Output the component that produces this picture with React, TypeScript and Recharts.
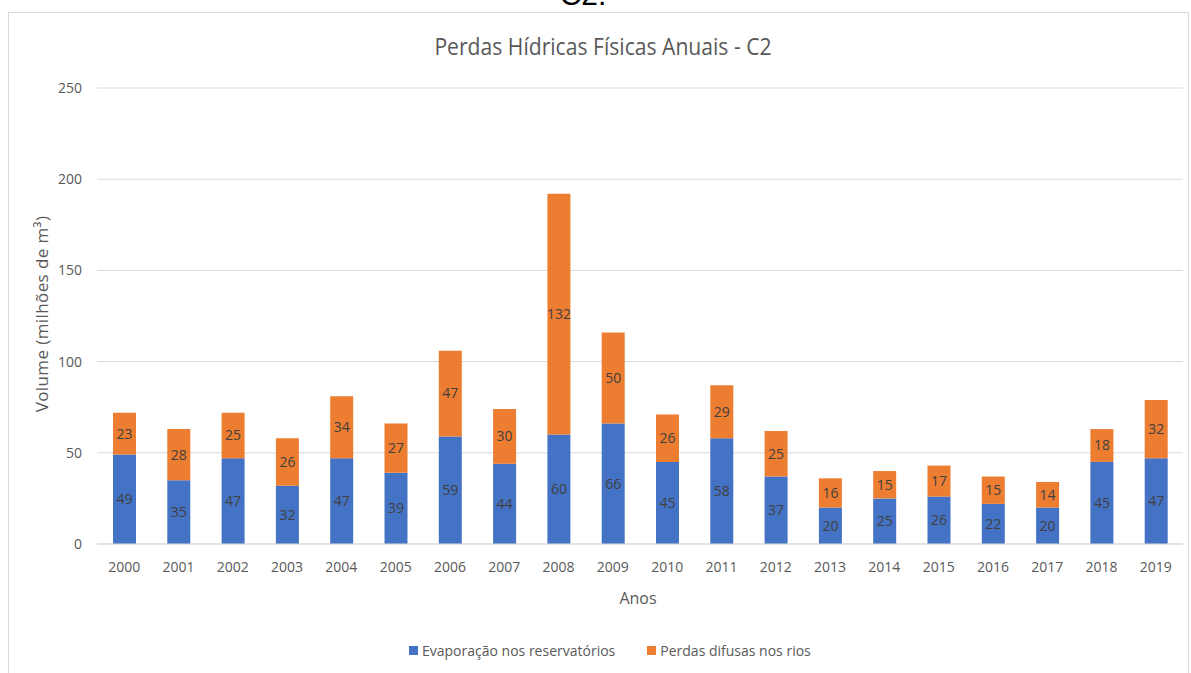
import { BarChart, Bar, XAxis, YAxis, CartesianGrid, LabelList } from 'recharts'

const years = ['2000', '2001', '2002', '2003', '2004', '2005', '2006', '2007', '2008', '2009', '2010', '2011', '2012', '2013', '2014', '2015', '2016', '2017', '2018', '2019']
const evaporacao = [49, 35, 47, 32, 47, 39, 59, 44, 60, 66, 45, 58, 37, 20, 25, 26, 22, 20, 45, 47]
const perdasDifusas = [23, 28, 25, 26, 34, 27, 47, 30, 132, 50, 26, 29, 25, 16, 15, 17, 15, 14, 18, 32]
const yTicks = [0, 50, 100, 150, 200, 250]

const BLUE = '#4472c4'
const ORANGE = '#ed7d31'
const TEXT = '#595959'
const FONT = "'Open Sans', sans-serif"

const data = years.map((y, i) => ({ ano: y, evap: evaporacao[i], perdas: perdasDifusas[i] }))

const labelStyle = { fill: '#404040', fontSize: 14, fontFamily: FONT }

export default function App() {
  return (
    <div style={{ position: 'absolute', left: 0, top: 0, width: 1191, height: 673, background: '#fff', overflow: 'hidden', fontFamily: FONT }}>
      <div style={{ position: 'absolute', left: 0, width: 1166, top: -22, textAlign: 'center', fontSize: 30, fontFamily: "'Liberation Sans', Arial, sans-serif", color: '#000' }}>
        C2.
      </div>
      <div style={{ position: 'absolute', left: 8, top: 12, width: 1181, height: 680, border: '1px solid #d9d9d9', boxSizing: 'border-box' }} />
      <div style={{ position: 'absolute', left: 0, width: 1206, top: 29, textAlign: 'center', fontSize: 24, color: TEXT, transform: 'scaleX(0.88)', transformOrigin: '603px 0' }}>
        Perdas Hídricas Físicas Anuais - C2
      </div>
      <div style={{ position: 'absolute', left: 41, top: 314, transform: 'translate(-50%, -50%) rotate(-90deg)', whiteSpace: 'nowrap', fontSize: 17, letterSpacing: 0.4, color: TEXT }}>
        Volume (milhões de m³)
      </div>
      <div style={{ position: 'absolute', left: 0, width: 1276, top: 587, textAlign: 'center', fontSize: 16, color: TEXT }}>
        Anos
      </div>
      <div style={{ position: 'absolute', left: 409, top: 641, display: 'flex', alignItems: 'center', fontSize: 14, color: TEXT, whiteSpace: 'nowrap' }}>
        <span style={{ width: 9, height: 9, background: BLUE, display: 'inline-block', marginRight: 4 }} />
        <span>Evaporação nos reservatórios</span>
        <span style={{ width: 9, height: 9, background: ORANGE, display: 'inline-block', marginLeft: 32, marginRight: 4 }} />
        <span>Perdas difusas nos rios</span>
      </div>
      <div style={{ position: 'absolute', left: 0, top: 0 }}>
        <BarChart width={1191} height={673} data={data} margin={{ top: 88, right: 8, bottom: 89, left: 37 }} barSize={23}>
          <CartesianGrid vertical={false} stroke="#d9d9d9" />
          <XAxis
            dataKey="ano"
            axisLine={{ stroke: '#d9d9d9' }}
            tickLine={false}
            tickMargin={12}
            height={40}
            tick={{ fill: TEXT, fontSize: 14, fontFamily: FONT }}
            interval={0}
          />
          <YAxis
            domain={[0, 250]}
            ticks={yTicks}
            width={60}
            axisLine={false}
            tickLine={false}
            tickMargin={9}
            tick={{ fill: TEXT, fontSize: 14, fontFamily: FONT }}
          />
          <Bar dataKey="evap" stackId="a" fill={BLUE} isAnimationActive={false}>
            <LabelList dataKey="evap" position="center" style={labelStyle} />
          </Bar>
          <Bar dataKey="perdas" stackId="a" fill={ORANGE} isAnimationActive={false}>
            <LabelList dataKey="perdas" position="center" style={labelStyle} />
          </Bar>
        </BarChart>
      </div>
    </div>
  )
}
